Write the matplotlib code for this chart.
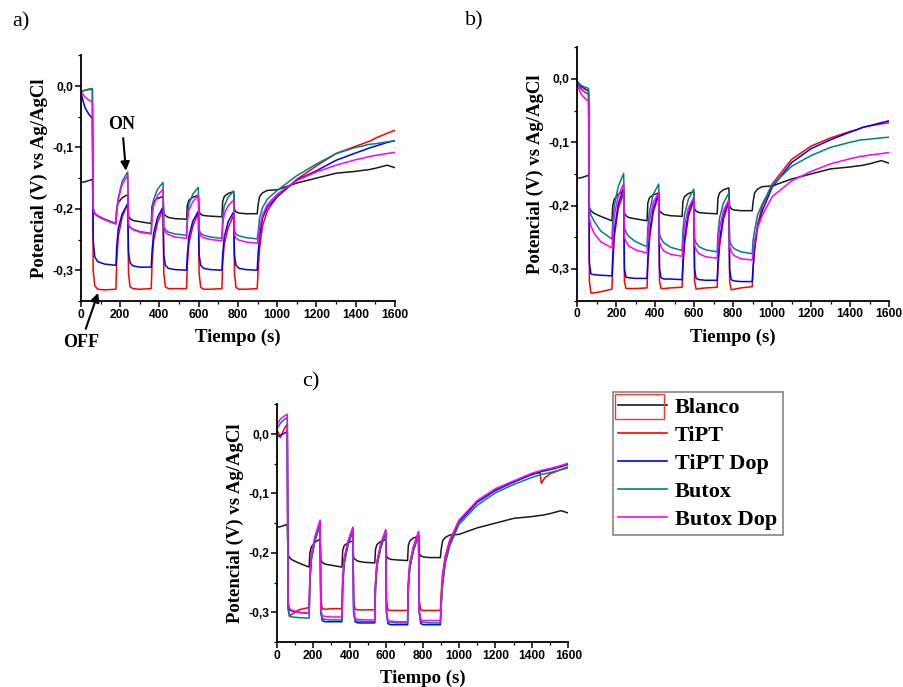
import matplotlib
matplotlib.use('Agg')
import matplotlib.pyplot as plt
from matplotlib.ticker import MultipleLocator, FuncFormatter
from matplotlib.patches import Rectangle
from matplotlib.lines import Line2D

# common time grid (s): initial, 5 off/on cycles, final recovery
tiempo_s = [0, 20, 40, 58,
            62, 70, 85, 120, 178,
            182, 190, 210, 238,
            242, 250, 265, 300, 358,
            362, 370, 390, 418,
            422, 430, 445, 480, 538,
            542, 550, 570, 598,
            602, 610, 625, 660, 718,
            722, 730, 750, 778,
            782, 790, 805, 840, 898,
            902, 910, 925, 950, 1000, 1100, 1200, 1300, 1400,
            1445, 1452, 1470, 1500, 1560, 1600]

labels = ['Blanco', 'TiPT', 'TiPT Dop', 'Butox', 'Butox Dop']
colors = ['#1a1a1a', '#ff0000', '#0000ff', '#008080', '#ff00ff']

# Blanco (same uncoated steel in every panel)
blanco = [-0.157, -0.156, -0.154, -0.152,
          -0.203, -0.208, -0.212, -0.217, -0.224,
          -0.200, -0.190, -0.182, -0.177,
          -0.212, -0.216, -0.219, -0.221, -0.224,
          -0.196, -0.188, -0.183, -0.180,
          -0.208, -0.211, -0.214, -0.216, -0.217,
          -0.194, -0.186, -0.181, -0.178,
          -0.205, -0.209, -0.211, -0.212, -0.213,
          -0.188, -0.180, -0.175, -0.172,
          -0.201, -0.205, -0.207, -0.208, -0.208,
          -0.195, -0.180, -0.174, -0.170, -0.169, -0.158, -0.150, -0.142, -0.139,
          -0.137, -0.137, -0.136, -0.134, -0.129, -0.133]

# panel a)
a_tipt = [-0.009, -0.007, -0.006, -0.005,
          -0.300, -0.325, -0.331, -0.332, -0.331,
          -0.285, -0.245, -0.213, -0.192,
          -0.305, -0.327, -0.330, -0.331, -0.330,
          -0.290, -0.252, -0.222, -0.201,
          -0.305, -0.327, -0.330, -0.330, -0.330,
          -0.290, -0.256, -0.228, -0.207,
          -0.305, -0.328, -0.331, -0.331, -0.330,
          -0.290, -0.258, -0.231, -0.210,
          -0.305, -0.328, -0.331, -0.331, -0.330,
          -0.305, -0.265, -0.228, -0.203, -0.180, -0.152, -0.130, -0.110, -0.098,
          -0.093, -0.092, -0.090, -0.085, -0.077, -0.072]
a_tipt_dop = [-0.012, -0.035, -0.046, -0.053,
              -0.250, -0.278, -0.286, -0.290, -0.292,
              -0.262, -0.232, -0.208, -0.192,
              -0.270, -0.288, -0.293, -0.295, -0.295,
              -0.270, -0.240, -0.214, -0.197,
              -0.275, -0.292, -0.297, -0.299, -0.300,
              -0.275, -0.245, -0.220, -0.204,
              -0.275, -0.292, -0.297, -0.299, -0.300,
              -0.275, -0.246, -0.221, -0.205,
              -0.275, -0.292, -0.297, -0.299, -0.300,
              -0.275, -0.245, -0.215, -0.197, -0.180, -0.153, -0.138, -0.121, -0.109,
              -0.104, -0.103, -0.101, -0.098, -0.092, -0.089]
a_butox = [-0.009, -0.007, -0.005, -0.004,
           -0.198, -0.207, -0.211, -0.217, -0.224,
           -0.200, -0.182, -0.155, -0.140,
           -0.226, -0.230, -0.233, -0.237, -0.240,
           -0.205, -0.185, -0.168, -0.157,
           -0.228, -0.234, -0.238, -0.241, -0.243,
           -0.212, -0.192, -0.176, -0.165,
           -0.234, -0.240, -0.243, -0.246, -0.248,
           -0.215, -0.195, -0.181, -0.171,
           -0.236, -0.241, -0.244, -0.247, -0.249,
           -0.240, -0.215, -0.198, -0.184, -0.170, -0.146, -0.127, -0.110, -0.100,
           -0.097, -0.096, -0.095, -0.094, -0.091, -0.089]
a_butox_dop = [-0.009, -0.018, -0.023, -0.026,
               -0.200, -0.208, -0.212, -0.218, -0.225,
               -0.205, -0.185, -0.160, -0.146,
               -0.225, -0.230, -0.234, -0.238, -0.241,
               -0.215, -0.195, -0.178, -0.168,
               -0.232, -0.238, -0.242, -0.246, -0.248,
               -0.222, -0.202, -0.188, -0.178,
               -0.238, -0.244, -0.247, -0.250, -0.252,
               -0.228, -0.208, -0.195, -0.186,
               -0.242, -0.248, -0.251, -0.254, -0.256,
               -0.250, -0.230, -0.210, -0.193, -0.176, -0.154, -0.140, -0.129, -0.120,
               -0.117, -0.116, -0.115, -0.113, -0.110, -0.108]

# panel b)
b_tipt = [-0.008, -0.016, -0.021, -0.024,
          -0.320, -0.338, -0.338, -0.336, -0.332,
          -0.295, -0.250, -0.205, -0.180,
          -0.320, -0.331, -0.331, -0.331, -0.330,
          -0.295, -0.255, -0.210, -0.183,
          -0.320, -0.331, -0.331, -0.330, -0.329,
          -0.300, -0.262, -0.218, -0.191,
          -0.320, -0.332, -0.331, -0.330, -0.329,
          -0.300, -0.265, -0.222, -0.195,
          -0.320, -0.333, -0.332, -0.330, -0.328,
          -0.300, -0.265, -0.230, -0.200, -0.166, -0.127, -0.106, -0.093, -0.083,
          -0.079, -0.078, -0.076, -0.074, -0.071, -0.069]
b_tipt_dop = [-0.004, -0.012, -0.016, -0.019,
              -0.290, -0.308, -0.309, -0.310, -0.311,
              -0.280, -0.240, -0.198, -0.172,
              -0.300, -0.313, -0.314, -0.315, -0.315,
              -0.285, -0.245, -0.205, -0.180,
              -0.300, -0.314, -0.316, -0.316, -0.317,
              -0.290, -0.252, -0.212, -0.188,
              -0.300, -0.315, -0.317, -0.318, -0.318,
              -0.290, -0.255, -0.216, -0.191,
              -0.300, -0.317, -0.319, -0.320, -0.320,
              -0.300, -0.270, -0.235, -0.208, -0.171, -0.132, -0.110, -0.096, -0.084,
              -0.079, -0.078, -0.076, -0.074, -0.069, -0.066]
b_butox = [-0.004, -0.010, -0.013, -0.015,
           -0.205, -0.215, -0.224, -0.240, -0.253,
           -0.225, -0.200, -0.170, -0.149,
           -0.235, -0.242, -0.249, -0.257, -0.265,
           -0.235, -0.210, -0.182, -0.166,
           -0.245, -0.252, -0.259, -0.266, -0.271,
           -0.240, -0.215, -0.190, -0.174,
           -0.252, -0.259, -0.265, -0.270, -0.273,
           -0.245, -0.220, -0.196, -0.180,
           -0.255, -0.262, -0.268, -0.273, -0.276,
           -0.255, -0.240, -0.215, -0.197, -0.168, -0.138, -0.121, -0.108, -0.100,
           -0.097, -0.096, -0.096, -0.095, -0.093, -0.092]
b_butox_dop = [-0.010, -0.024, -0.031, -0.035,
               -0.220, -0.232, -0.243, -0.257, -0.267,
               -0.245, -0.215, -0.185, -0.165,
               -0.250, -0.257, -0.264, -0.270, -0.275,
               -0.255, -0.225, -0.195, -0.179,
               -0.258, -0.265, -0.272, -0.277, -0.280,
               -0.262, -0.232, -0.204, -0.187,
               -0.262, -0.270, -0.276, -0.281, -0.283,
               -0.265, -0.236, -0.208, -0.191,
               -0.265, -0.273, -0.279, -0.284, -0.286,
               -0.275, -0.255, -0.235, -0.215, -0.186, -0.161, -0.146, -0.134, -0.126,
               -0.123, -0.122, -0.122, -0.120, -0.118, -0.116]

# panel c)
c_tipt = [0.008, -0.006, 0.008, 0.017,
          -0.290, -0.306, -0.303, -0.296, -0.292,
          -0.240, -0.205, -0.175, -0.148,
          -0.280, -0.294, -0.295, -0.294, -0.294,
          -0.245, -0.210, -0.182, -0.157,
          -0.280, -0.295, -0.296, -0.296, -0.296,
          -0.250, -0.215, -0.186, -0.162,
          -0.280, -0.296, -0.297, -0.297, -0.297,
          -0.250, -0.217, -0.190, -0.165,
          -0.280, -0.296, -0.297, -0.297, -0.297,
          -0.270, -0.235, -0.205, -0.178, -0.146, -0.114, -0.094, -0.080, -0.068,
          -0.065, -0.083, -0.074, -0.067, -0.060, -0.055]
c_tipt_dop = [-0.005, -0.002, 0.001, 0.004,
              -0.285, -0.296, -0.298, -0.300, -0.302,
              -0.245, -0.210, -0.178, -0.150,
              -0.300, -0.314, -0.316, -0.316, -0.316,
              -0.255, -0.218, -0.188, -0.162,
              -0.300, -0.316, -0.318, -0.318, -0.318,
              -0.258, -0.222, -0.192, -0.166,
              -0.300, -0.319, -0.321, -0.321, -0.321,
              -0.260, -0.225, -0.196, -0.170,
              -0.300, -0.319, -0.321, -0.321, -0.321,
              -0.290, -0.250, -0.213, -0.183, -0.148, -0.115, -0.095, -0.081, -0.068,
              -0.064, -0.063, -0.062, -0.060, -0.055, -0.051]
c_butox = [0.008, 0.018, 0.024, 0.028,
           -0.295, -0.307, -0.308, -0.309, -0.310,
           -0.248, -0.212, -0.180, -0.153,
           -0.300, -0.311, -0.312, -0.313, -0.313,
           -0.255, -0.218, -0.188, -0.162,
           -0.300, -0.314, -0.315, -0.316, -0.316,
           -0.258, -0.222, -0.192, -0.166,
           -0.300, -0.316, -0.317, -0.318, -0.318,
           -0.260, -0.225, -0.196, -0.170,
           -0.300, -0.316, -0.317, -0.318, -0.318,
           -0.290, -0.255, -0.218, -0.188, -0.152, -0.120, -0.099, -0.085, -0.073,
           -0.069, -0.068, -0.067, -0.065, -0.060, -0.057]
c_butox_dop = [0.015, 0.025, 0.030, 0.033,
               -0.280, -0.294, -0.297, -0.300, -0.302,
               -0.238, -0.203, -0.172, -0.145,
               -0.295, -0.306, -0.307, -0.308, -0.308,
               -0.245, -0.210, -0.182, -0.157,
               -0.295, -0.311, -0.312, -0.313, -0.313,
               -0.250, -0.215, -0.186, -0.161,
               -0.295, -0.314, -0.315, -0.316, -0.316,
               -0.252, -0.218, -0.190, -0.164,
               -0.295, -0.313, -0.314, -0.314, -0.314,
               -0.280, -0.240, -0.208, -0.180, -0.145, -0.112, -0.092, -0.079, -0.066,
               -0.062, -0.061, -0.060, -0.058, -0.053, -0.049]

SERIF = 'Liberation Serif'
SANS = 'Liberation Sans'


def coma(v, pos):
    s = '%.1f' % v
    if s == '-0.0':
        s = '0.0'
    return s.replace('.', ',')


def panel(rect, series):
    ax = fig.add_axes(rect)
    for vals, lab, col in zip(series, labels, colors):
        ax.plot(tiempo_s, vals, color=col, lw=1.1, label=lab)
    ax.set_xlim(0, 1600)
    ax.set_ylim(-0.35, 0.05)
    ax.set_xticks(range(0, 1601, 200))
    ax.set_yticks([-0.3, -0.2, -0.1, 0.0])
    ax.xaxis.set_minor_locator(MultipleLocator(100))
    ax.yaxis.set_minor_locator(MultipleLocator(0.05))
    ax.yaxis.set_major_formatter(FuncFormatter(coma))
    for s in ['top', 'right']:
        ax.spines[s].set_visible(False)
    for s in ['left', 'bottom']:
        ax.spines[s].set_linewidth(1.3)
    ax.tick_params(which='major', direction='out', length=4, width=1.1, pad=1.5)
    ax.tick_params(which='minor', direction='out', length=2.5, width=0.9)
    for t in ax.get_xticklabels() + ax.get_yticklabels():
        t.set_fontfamily(SANS)
        t.set_fontweight('bold')
        t.set_fontsize(8.7)
    ax.set_xlabel('Tiempo (s)', family=SERIF, weight='bold', size=13.5, labelpad=6)
    ax.set_ylabel('Potencial (V) vs Ag/AgCl', family=SERIF, weight='bold', size=13.5, labelpad=3)
    return ax


fig = plt.figure(figsize=(9.04, 6.87), dpi=100)

ax_a = panel([0.0896, 0.562, 0.3473, 0.3575],
             [blanco, a_tipt, a_tipt_dop, a_butox, a_butox_dop])
ax_b = panel([0.6386, 0.5625, 0.3448, 0.3686],
             [blanco, b_tipt, b_tipt_dop, b_butox, b_butox_dop])
ax_c = panel([0.3061, 0.0656, 0.3226, 0.3459],
             [blanco, c_tipt, c_tipt_dop, c_butox, c_butox_dop])

# ON / OFF arrows on panel a
ax_a.annotate('ON', xy=(229, -0.138), xytext=(209, -0.062), ha='center', va='center',
              family=SERIF, weight='bold', size=13,
              arrowprops=dict(arrowstyle='-|>', color='k', lw=1.5, mutation_scale=13, shrinkB=0))
ax_a.annotate('OFF', xy=(87, -0.337), xytext=(0, -0.418), ha='center', va='center',
              family=SERIF, weight='bold', size=13, annotation_clip=False,
              arrowprops=dict(arrowstyle='-|>', color='k', lw=1.5, mutation_scale=13, shrinkB=0))

fig.text(21 / 904, 1 - 22 / 687, 'a)', family=SERIF, size=16, ha='center', va='center')
fig.text(474 / 904, 1 - 21 / 687, 'b)', family=SERIF, size=16, ha='center', va='center')
fig.text(311 / 904, 1 - 382 / 687, 'c)', family=SERIF, size=16, ha='center', va='center')

handles = [Line2D([], [], color=c, lw=1.2) for c in colors]
leg = fig.legend(handles, labels, loc='upper left', bbox_to_anchor=(0.6778, 0.4294),
                 frameon=True, fancybox=False, edgecolor='#666666',
                 prop=dict(family=SERIF, weight='bold', size=16),
                 handlelength=2.2, handletextpad=0.35, labelspacing=0.33,
                 borderpad=0.25, borderaxespad=0)
leg.get_frame().set_linewidth(1.2)

# red selection box around the Blanco handle
box = Rectangle((615 / 904, 1 - 419 / 687), 49 / 904, 25 / 687,
                transform=fig.transFigure, fill=False, ec='#ff3333', lw=1.0)
box.set_zorder(10)
fig.add_artist(box)

fig.savefig('out.png', dpi=100, facecolor='white')
